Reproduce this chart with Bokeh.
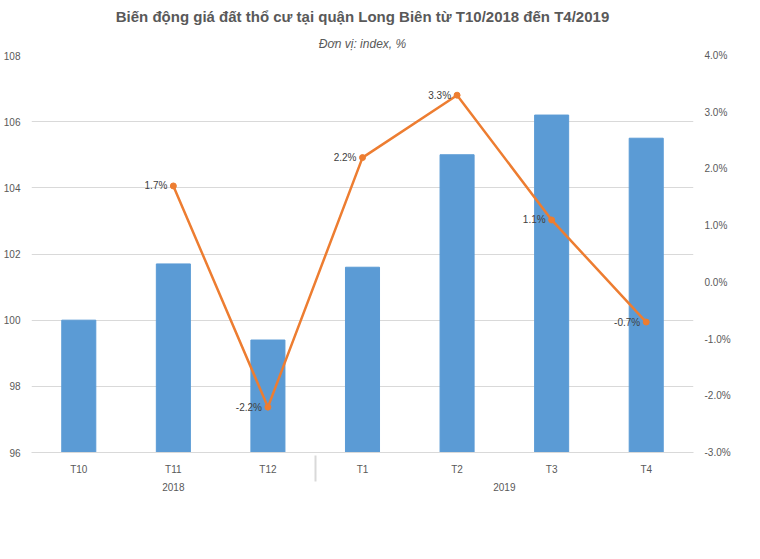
from bokeh.plotting import figure
from bokeh.models import FactorRange, Range1d, LinearAxis, PrintfTickFormatter, ColumnDataSource, Legend, LegendItem, Title, FixedTicker, LabelSet
from bokeh.embed import file_html
from bokeh.resources import INLINE

years = ["2018", "2018", "2018", "2019", "2019", "2019", "2019"]
months = ["T10", "T11", "T12", "T1", "T2", "T3", "T4"]
price = [100.0, 101.7, 99.4, 101.6, 105.0, 106.2, 105.5]
change = [None, 1.7, -2.2, 2.2, 3.3, 1.1, -0.7]

x = list(zip(years, months))
src = ColumnDataSource(dict(x=x, price=price))
lx = [x[i] for i in range(len(x)) if change[i] is not None]
lv = [c for c in change if c is not None]
lsrc = ColumnDataSource(dict(x=lx, v=lv, t=["%.1f%%" % c for c in lv]))

p = figure(x_range=FactorRange(*x, factor_padding=0, group_padding=0, range_padding=0),
           y_range=Range1d(96, 108), frame_width=662, frame_height=397,
           output_backend="svg", toolbar_location=None,
           min_border_left=10, min_border_right=10, min_border_top=5, min_border_bottom=5)
p.extra_y_ranges = {"pct": Range1d(-3, 4)}
p.add_layout(Title(text="Đơn vị: index, %", text_font_style="italic", text_font_size="12px",
                   text_color="#595959", align="center", text_font="Liberation Sans"), "above")
p.add_layout(Title(text="Biến động giá đất thổ cư tại quận Long Biên từ T10/2018 đến T4/2019",
                   text_font_style="bold", text_font_size="15px", text_color="#595959",
                   align="center", text_font="Liberation Sans"), "above")

bars = p.vbar(x="x", top="price", bottom=96, width=0.36, source=src, color="#5B9BD5")
line = p.line(x="x", y="v", source=lsrc, y_range_name="pct", color="#ED7D31", line_width=2.5)
pts = p.scatter(x="x", y="v", source=lsrc, y_range_name="pct", color="#ED7D31", size=6)
p.add_layout(LabelSet(x="x", y="v", text="t", source=lsrc, y_range_name="pct", x_offset=-6,
                      text_align="right", text_baseline="middle", text_font_size="10px",
                      text_color="#404040"))

ra = LinearAxis(y_range_name="pct", ticker=FixedTicker(ticks=[-3, -2, -1, 0, 1, 2, 3, 4]),
                formatter=PrintfTickFormatter(format="%.1f%%"))
p.add_layout(ra, "right")
p.yaxis.ticker = FixedTicker(ticks=[96, 98, 100, 102, 104, 106, 108])
ra.ticker = FixedTicker(ticks=[-3, -2, -1, 0, 1, 2, 3, 4])
for ax in p.yaxis:
    ax.axis_line_color = None
    ax.major_tick_line_color = None
    ax.minor_tick_line_color = None
    ax.major_label_text_font_size = "10px"
    ax.major_label_text_color = "#595959"
p.xaxis.axis_line_color = "#D9D9D9"
p.xaxis.major_tick_line_color = None
p.xaxis.major_label_text_font_size = "10px"
p.xaxis.major_label_text_color = "#595959"
p.xaxis.group_text_font_size = "10px"
p.xaxis.group_text_color = "#595959"
p.xaxis.group_text_font_style = "normal"
p.xaxis.separator_line_color = "#D9D9D9"
p.xgrid.grid_line_color = None
p.ygrid.grid_line_color = "#D9D9D9"
p.outline_line_color = None

leg = Legend(items=[LegendItem(label="Giá trung bình", renderers=[bars]),
                    LegendItem(label="Biến động giá so với tháng liền trước", renderers=[line, pts])],
             orientation="horizontal", border_line_color=None,
             label_text_font_size="11px", label_text_color="#595959", spacing=30)
p.add_layout(leg, "below")

open("out.html", "w").write(file_html(p, INLINE))
